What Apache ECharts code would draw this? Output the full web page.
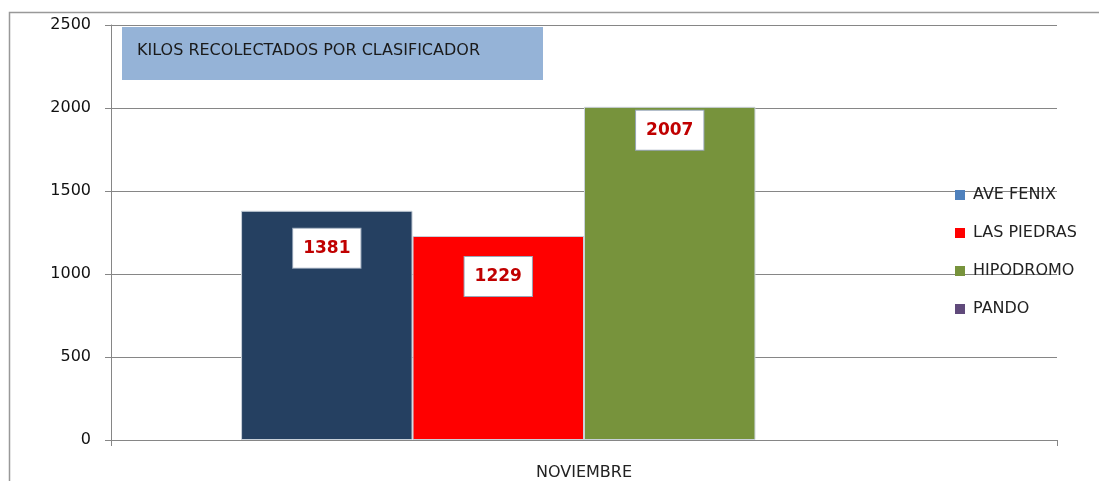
<!DOCTYPE html>
<html>
<head>
<meta charset="utf-8">
<script src="https://cdn.jsdelivr.net/npm/echarts@6/dist/echarts.min.js"></script>
<style>
  html, body { margin: 0; padding: 0; background: #fff; }
  #chart { width: 1099px; height: 481px; }
</style>
</head>
<body>
<div id="chart"></div>
<script>
// data
var months = ['NOVIEMBRE'];
var classifiers = ['AVE FENIX', 'LAS PIEDRAS', 'HIPODROMO', 'PANDO'];
var kilos = [1381, 1229, 2007, null];
var yTicks = [0, 500, 1000, 1500, 2000, 2500];

// styling
var barColors = ['#254061', '#FF0000', '#77933C', '#604A7B'];
var legendColors = ['#4F81BD', '#FF0000', '#77933C', '#604A7B'];
var labelGaps = [18, 21, 4];
var FONT = 'DejaVu Sans';

var myChart = echarts.init(document.getElementById('chart'));

var series = classifiers.map(function (name, i) {
  return {
    name: name,
    type: 'bar',
    barGap: '0%',
    barCategoryGap: '27.5%',
    data: [kilos[i] == null ? '-' : kilos[i]],
    itemStyle: { color: barColors[i], borderColor: '#C9D1DA', borderWidth: 1 },
    label: {
      show: kilos[i] != null,
      position: 'insideTop',
      distance: labelGaps[i] || 0,
      color: '#C00000',
      fontFamily: FONT,
      fontWeight: 'bold',
      fontSize: 17,
      lineHeight: 19,
      backgroundColor: '#fff',
      borderColor: '#9AA8BA',
      borderWidth: 1,
      padding: [10, 10, 10, 10]
    },
    emphasis: { disabled: true }
  };
});

myChart.setOption({
  animation: false,
  grid: { left: 111, right: 42, top: 25, bottom: 39 },
  legend: {
    orient: 'vertical',
    left: 950,
    top: 182,
    itemWidth: 10,
    itemHeight: 10,
    itemGap: 22,
    icon: 'rect',
    itemStyle: { borderWidth: 0 },
    data: classifiers.map(function (name, i) {
      return { name: name, itemStyle: { color: legendColors[i], borderWidth: 0 } };
    }),
    textStyle: { fontFamily: FONT, fontSize: 16, lineHeight: 16, color: '#222', padding: [0, 0, 0, 3] }
  },
  xAxis: {
    type: 'category',
    data: months,
    axisLine: { lineStyle: { color: '#868686' } },
    axisTick: { show: true, length: 6, lineStyle: { color: '#868686' } },
    axisLabel: { fontFamily: FONT, fontSize: 16, color: '#222', margin: 25 }
  },
  yAxis: {
    type: 'value',
    min: yTicks[0],
    max: yTicks[yTicks.length - 1],
    interval: yTicks[1] - yTicks[0],
    axisLine: { show: true, lineStyle: { color: '#868686' } },
    axisTick: { show: true, length: 6, lineStyle: { color: '#868686' } },
    axisLabel: {
      fontFamily: FONT, fontSize: 16, color: '#111', margin: 20,
      formatter: function (v) { return String(v); }
    },
    splitLine: { lineStyle: { color: '#868686' } }
  },
  graphic: [
    {
      type: 'polyline',
      shape: { points: [[9.5, 481], [9.5, 12.5], [1099, 12.5]] },
      style: { stroke: '#999', lineWidth: 1.5, fill: null },
      silent: true
    },
    {
      type: 'rect',
      shape: { x: 122, y: 27, width: 421, height: 53 },
      style: { fill: '#95B3D7' },
      silent: true
    },
    {
      type: 'text',
      x: 137,
      y: 51,
      style: {
        text: 'KILOS RECOLECTADOS POR CLASIFICADOR',
        font: '16px "DejaVu Sans"',
        fill: '#1a1a1a',
        verticalAlign: 'middle'
      },
      silent: true
    }
  ],
  series: series
});
</script>
</body>
</html>
